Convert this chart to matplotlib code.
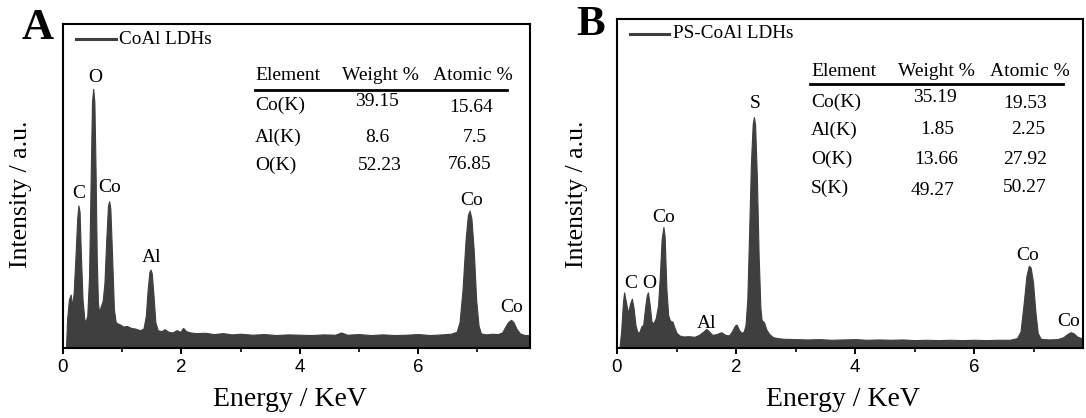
import matplotlib
matplotlib.use("Agg")
import matplotlib.pyplot as plt
from matplotlib.lines import Line2D

# ---------------- data ----------------
energy_a = [0.05, 0.07, 0.10, 0.13, 0.155, 0.18, 0.21, 0.24, 0.26, 0.28, 0.30, 0.33, 0.36, 0.38,
            0.41, 0.44, 0.47, 0.49, 0.51, 0.53, 0.55, 0.57, 0.59, 0.61, 0.64, 0.67, 0.70, 0.73,
            0.76, 0.78, 0.80, 0.83, 0.86, 0.89, 0.93, 0.97, 1.02, 1.08, 1.15, 1.22, 1.30, 1.36,
            1.40, 1.43, 1.46, 1.48, 1.50, 1.53, 1.56, 1.60, 1.66, 1.72, 1.78, 1.85, 1.92, 1.98,
            2.03, 2.08, 2.15, 2.25, 2.40, 2.55, 2.70, 2.85, 3.00, 3.20, 3.40, 3.60, 3.80, 4.00,
            4.20, 4.40, 4.60, 4.70, 4.80, 5.00, 5.20, 5.40, 5.60, 5.80, 6.00, 6.20, 6.40, 6.55,
            6.65, 6.70, 6.75, 6.80, 6.84, 6.87, 6.90, 6.94, 6.98, 7.02, 7.06, 7.15, 7.25, 7.35,
            7.42, 7.47, 7.52, 7.57, 7.61, 7.66, 7.72, 7.80, 7.90]
intensity_a = [0.000, 0.090, 0.150, 0.165, 0.130, 0.170, 0.280, 0.400, 0.440, 0.420, 0.300, 0.150,
               0.090, 0.080, 0.100, 0.220, 0.550, 0.760, 0.800, 0.760, 0.550, 0.280, 0.140, 0.110,
               0.130, 0.145, 0.200, 0.330, 0.440, 0.453, 0.430, 0.280, 0.120, 0.080, 0.075, 0.072,
               0.066, 0.068, 0.062, 0.060, 0.055, 0.060, 0.100, 0.180, 0.235, 0.242, 0.230, 0.160,
               0.080, 0.055, 0.052, 0.058, 0.050, 0.048, 0.055, 0.050, 0.062, 0.052, 0.048, 0.046,
               0.047, 0.043, 0.046, 0.042, 0.044, 0.041, 0.043, 0.040, 0.042, 0.041, 0.040, 0.042,
               0.041, 0.048, 0.041, 0.043, 0.040, 0.042, 0.040, 0.041, 0.043, 0.040, 0.042, 0.044,
               0.050, 0.080, 0.180, 0.330, 0.410, 0.424, 0.400, 0.300, 0.150, 0.070, 0.045, 0.042,
               0.044, 0.043, 0.048, 0.065, 0.080, 0.087, 0.080, 0.060, 0.045, 0.040, 0.040]

energy_b = [0.04, 0.07, 0.10, 0.12, 0.15, 0.185, 0.22, 0.25, 0.28, 0.31, 0.34, 0.37, 0.41, 0.44,
            0.47, 0.50, 0.52, 0.55, 0.58, 0.61, 0.65, 0.69, 0.72, 0.75, 0.78, 0.80, 0.83, 0.86,
            0.885, 0.91, 0.93, 0.96, 1.00, 1.05, 1.12, 1.20, 1.30, 1.38, 1.45, 1.50, 1.55, 1.60,
            1.67, 1.75, 1.82, 1.88, 1.93, 1.98, 2.01, 2.05, 2.09, 2.13, 2.16, 2.19, 2.22, 2.25,
            2.28, 2.30, 2.32, 2.35, 2.38, 2.41, 2.43, 2.47, 2.51, 2.56, 2.62, 2.70, 2.80, 3.00,
            3.20, 3.40, 3.60, 3.80, 4.00, 4.20, 4.40, 4.60, 4.80, 5.00, 5.20, 5.40, 5.60, 5.80,
            6.00, 6.20, 6.40, 6.60, 6.72, 6.78, 6.83, 6.88, 6.92, 6.95, 6.99, 7.03, 7.07, 7.12,
            7.25, 7.40, 7.50, 7.57, 7.62, 7.67, 7.73, 7.80, 7.85]
intensity_b = [0.000, 0.050, 0.140, 0.169, 0.140, 0.106, 0.135, 0.150, 0.120, 0.070, 0.050, 0.046,
               0.066, 0.070, 0.120, 0.160, 0.169, 0.130, 0.080, 0.075, 0.090, 0.130, 0.220, 0.330,
               0.368, 0.340, 0.180, 0.100, 0.086, 0.080, 0.081, 0.065, 0.046, 0.038, 0.035, 0.036,
               0.034, 0.040, 0.050, 0.058, 0.050, 0.040, 0.042, 0.048, 0.040, 0.038, 0.050, 0.068,
               0.071, 0.055, 0.046, 0.050, 0.070, 0.150, 0.350, 0.560, 0.680, 0.702, 0.680, 0.520,
               0.280, 0.120, 0.085, 0.078, 0.056, 0.042, 0.033, 0.030, 0.028, 0.027, 0.026, 0.027,
               0.025, 0.026, 0.027, 0.025, 0.026, 0.025, 0.026, 0.024, 0.025, 0.024, 0.025, 0.024,
               0.025, 0.024, 0.025, 0.025, 0.030, 0.050, 0.130, 0.220, 0.250, 0.245, 0.200, 0.110,
               0.045, 0.028, 0.026, 0.027, 0.033, 0.043, 0.048, 0.045, 0.035, 0.030, 0.028]

series_a = "CoAl LDHs"
series_b = "PS-CoAl LDHs"

peak_labels_a = ["O", "C", "Co", "Al", "Co", "Co"]
peak_labels_b = ["C", "O", "Co", "Al", "S", "Co", "Co"]

table_header = ["Element", "Weight %", "Atomic %"]
elements_a = ["Co(K)", "Al(K)", "O(K)"]
weight_a = ["39.15", "8.6", "52.23"]
atomic_a = ["15.64", "7.5", "76.85"]
elements_b = ["Co(K)", "Al(K)", "O(K)", "S(K)"]
weight_b = ["35.19", "1.85", "13.66", "49.27"]
atomic_b = ["19.53", "2.25", "27.92", "50.27"]

xticks = [0, 2, 4, 6]
xlabel = "Energy / KeV"
ylabel = "Intensity / a.u."

# ---------------- layout ----------------
W, H = 1086, 418
fig = plt.figure(figsize=(W / 100, H / 100), dpi=100)
SERIF = ["Liberation Serif", "DejaVu Serif"]
SANS = ["Liberation Sans", "DejaVu Sans"]
FILL = "#3f3f3f"


def fx(x):
    return x / W


def fy(y):
    return 1 - y / H


def make_axes(left, top, right, bottom, xmax):
    ax = fig.add_axes([fx(left), fy(bottom), fx(right) - fx(left), fy(top) - fy(bottom)])
    ax.set_xlim(0, xmax)
    ax.set_ylim(0, 1)
    ax.set_yticks([])
    ax.set_xticks(xticks)
    ax.set_xticks([1, 3, 5, 7], minor=True)
    ax.tick_params(axis="x", which="major", direction="out", length=4.5, width=1.4,
                   pad=3.5, labelsize=13.5)
    ax.tick_params(axis="x", which="minor", direction="out", length=3, width=1.2)
    for lab in ax.get_xticklabels():
        lab.set_family(SANS)
    for s in ax.spines.values():
        s.set_linewidth(1.5)
    return ax


ax_a = make_axes(63, 24, 530, 348, 7.89)
ax_b = make_axes(617, 19, 1083, 348, 7.83)

ax_a.fill_between(energy_a, intensity_a, 0, color=FILL, lw=0.8)
ax_b.fill_between(energy_b, intensity_b, 0, color=FILL, lw=0.8)

# axis labels
for cx, cy in [(290, 400), (843, 400)]:
    fig.text(fx(cx), fy(cy), xlabel, family=SERIF, fontsize=20, ha="center", va="center")
for cx, cy in [(21, 194), (577, 194)]:
    fig.text(fx(cx), fy(cy), ylabel, family=SERIF, fontsize=18.5, ha="center", va="center",
             rotation=90)

# panel letters
fig.text(fx(38), fy(28), "A", family=SERIF, fontsize=32, weight="bold", ha="center", va="center")
fig.text(fx(591), fy(25), "B", family=SERIF, fontsize=31, weight="bold", ha="center", va="center")

# legends
fig.add_artist(Line2D([fx(76), fx(116)], [fy(39), fy(39)], color=FILL, lw=2.2))
fig.text(fx(119), fy(39), series_a, family=SERIF, fontsize=13.8, ha="left", va="center")
fig.add_artist(Line2D([fx(630), fx(669)], [fy(34), fy(34)], color=FILL, lw=2.2))
fig.text(fx(673), fy(34), series_b, family=SERIF, fontsize=13.8, ha="left", va="center")

# peak labels
pos_a = [(95, 77), (79, 194), (110, 188), (152, 257), (472, 200), (512, 307)]
for t, (x, y) in zip(peak_labels_a, pos_a):
    fig.text(fx(x), fy(y), t, family=SERIF, fontsize=14, ha="center", va="center")
pos_b = [(631, 283), (649, 283), (664, 217), (707, 324), (755, 104), (1028, 256), (1069, 322)]
for t, (x, y) in zip(peak_labels_b, pos_b):
    fig.text(fx(x), fy(y), t, family=SERIF, fontsize=14, ha="center", va="center")

# tables
def draw_table(x_el, x_w, x_a, y_head, y_rule, rule_x0, rule_x1, rows_y, wy, ay,
               elements, weights, atomics):
    fs = 14
    fig.text(fx(x_el), fy(y_head), table_header[0], family=SERIF, fontsize=fs, ha="left", va="center")
    fig.text(fx(x_w), fy(y_head), table_header[1], family=SERIF, fontsize=fs, ha="center", va="center")
    fig.text(fx(x_a), fy(y_head), table_header[2], family=SERIF, fontsize=fs, ha="center", va="center")
    fig.add_artist(Line2D([fx(rule_x0), fx(rule_x1)], [fy(y_rule), fy(y_rule)], color="black", lw=2.0))
    for i, (el, w, a) in enumerate(zip(elements, weights, atomics)):
        fig.text(fx(x_el), fy(rows_y[i]), el, family=SERIF, fontsize=fs, ha="left", va="center")
        fig.text(fx(wy[i][0]), fy(wy[i][1]), w, family=SERIF, fontsize=fs, ha="center", va="center")
        fig.text(fx(ay[i][0]), fy(ay[i][1]), a, family=SERIF, fontsize=fs, ha="center", va="center")


draw_table(255, 380, 473, 75, 89.5, 255, 507, [105, 137, 165],
           [(377, 102), (377, 137), (380, 165)], [(471, 107), (475, 137), (470, 164)],
           elements_a, weight_a, atomic_a)
draw_table(811, 936, 1030, 72, 84, 810, 1063, [102, 130, 159, 188],
           [(935, 98), (937, 130), (936, 160), (933, 190)],
           [(1025, 103), (1028, 130), (1025, 160), (1025, 187)],
           elements_b, weight_b, atomic_b)

fig.savefig("out.png", dpi=100)
